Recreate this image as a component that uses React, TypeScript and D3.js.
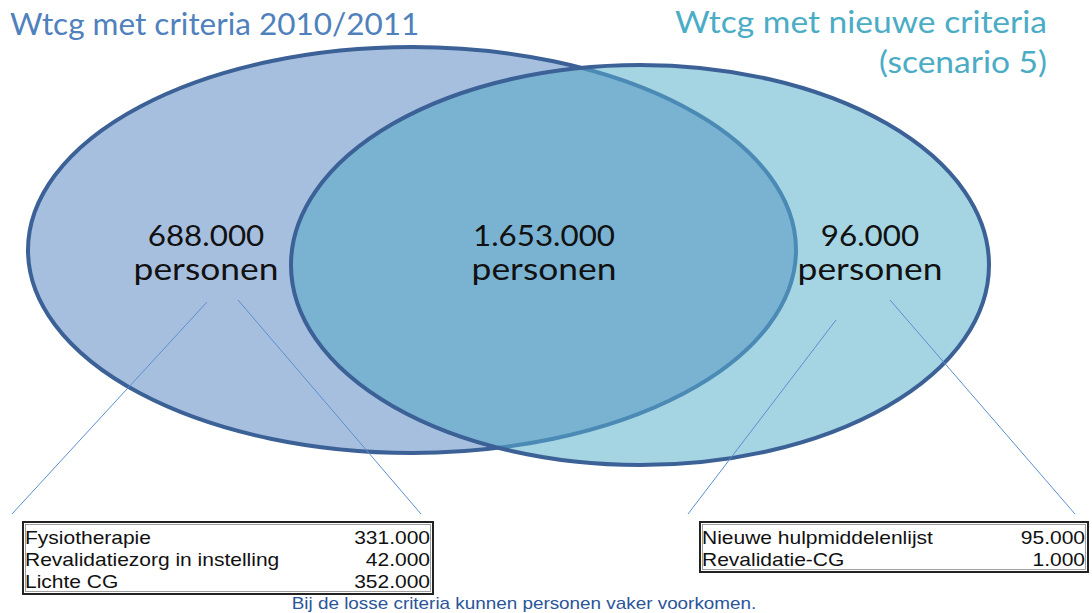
import React from 'react';
import * as d3 from 'd3';

// region counts (left only, overlap, right only)
const regionCounts = ['688.000', '1.653.000', '96.000'];
const regionUnit = 'personen';

const titleLeft = 'Wtcg met criteria 2010/2011';
const titleRight = ['Wtcg met nieuwe criteria', '(scenario 5)'];

const leftCriteria = ['Fysiotherapie', 'Revalidatiezorg in instelling', 'Lichte CG'];
const leftValues = [331000, 42000, 352000];
const rightCriteria = ['Nieuwe hulpmiddelenlijst', 'Revalidatie-CG'];
const rightValues = [95000, 1000];

const footnote = 'Bij de losse criteria kunnen personen vaker voorkomen.';

const W = 1092;
const H = 613;

const fmt = (v: number) => d3.format(',')(v).replace(/,/g, '.');

const ELL_L = { cx: 412, cy: 250, rx: 384, ry: 203 };
const ELL_R = { cx: 640, cy: 265, rx: 349, ry: 200 };

// the original slide is stretched a bit horizontally
const st = (x: number, y: number, sx: number) => `translate(${x},${y}) scale(${sx},1)`;

const TableBox: React.FC<{ x: number; y: number; w: number; labels: string[]; values: number[] }> = ({ x, y, w, labels, values }) => {
  const rowH = 22;
  const h = labels.length * rowH + 6;
  const rowY = d3.scaleBand<number>().domain(d3.range(labels.length)).range([y + 3, y + 3 + labels.length * rowH]);
  return (
    <g>
      <rect x={x} y={y} width={w} height={h} fill="#fff" stroke="#222" strokeWidth={2} />
      <rect x={x + 2.5} y={y + 2.5} width={w - 5} height={h - 5} fill="none" stroke="#888" strokeWidth={0.8} />
      {labels.map((l, i) => (
        <g key={l} fontFamily="'Liberation Sans', Arial, sans-serif" fontSize={17.5} fill="#111">
          <text transform={st(x + 2, (rowY(i) as number) + 19, 1.2)}>{l}</text>
          <text transform={st(x + w - 3, (rowY(i) as number) + 19, 1.2)} textAnchor="end">{fmt(values[i])}</text>
        </g>
      ))}
    </g>
  );
};

const App: React.FC = () => {
  const labelFont = "Lato, 'Open Sans', sans-serif";
  const centers = [
    { x: 206, count: regionCounts[0] },
    { x: 544, count: regionCounts[1] },
    { x: 870, count: regionCounts[2] },
  ];
  const leaders = [
    [207, 302, 12, 514],
    [238, 300, 421, 514],
    [836, 320, 688, 514],
    [890, 300, 1075, 514],
  ];
  return (
    <svg width={W} height={H} style={{ position: 'absolute', left: 0, top: 0, background: '#fff' }}>
      <defs>
        <clipPath id="clipR">
          <ellipse cx={ELL_R.cx} cy={ELL_R.cy} rx={ELL_R.rx} ry={ELL_R.ry} />
        </clipPath>
      </defs>

      {/* left set */}
      <ellipse {...ELL_L} fill="#a7bfdf" stroke="#3b6197" strokeWidth={4} />
      {/* right set */}
      <ellipse {...ELL_R} fill="#a5d4e2" stroke="none" />
      {/* overlap */}
      <g clipPath="url(#clipR)">
        <ellipse {...ELL_L} fill="#7ab3d1" stroke="#4a8ab5" strokeWidth={4} />
      </g>
      <ellipse {...ELL_R} fill="none" stroke="#3b6197" strokeWidth={4} />

      {/* titles */}
      <text transform={st(10, 35, 1.05)} fontFamily={labelFont} fontSize={30} fill="#4f81bd">{titleLeft}</text>
      {titleRight.map((t, i) => (
        <text key={t} transform={st(1047, 33 + i * 40, 1.1)} textAnchor="end" fontFamily={labelFont} fontSize={30.5} fill="#4bacc6">{t}</text>
      ))}

      {/* region labels */}
      {centers.map((c) => (
        <g key={c.count} fontFamily={labelFont} fill="#111" textAnchor="middle">
          <text transform={st(c.x, 246, 1.12)} fontSize={28}>{c.count}</text>
          <text transform={st(c.x, 280, 1.16)} fontSize={30.5}>{regionUnit}</text>
        </g>
      ))}

      {/* leader lines */}
      {leaders.map((l, i) => (
        <line key={i} x1={l[0]} y1={l[1]} x2={l[2]} y2={l[3]} stroke="#5b8fd0" strokeWidth={1} />
      ))}

      <TableBox x={23} y={522} w={410} labels={leftCriteria} values={leftValues} />
      <TableBox x={700} y={522} w={388} labels={rightCriteria} values={rightValues} />

      <text transform={st(524, 609, 1.18)} textAnchor="middle" fontFamily="'Liberation Sans', Arial, sans-serif" fontSize={16} fill="#2a5599">{footnote}</text>
    </svg>
  );
};

export default App;
